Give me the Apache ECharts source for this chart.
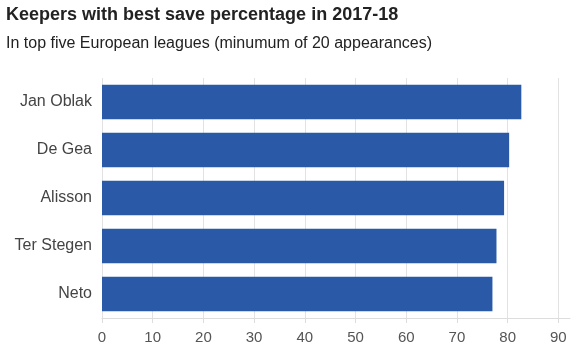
<!DOCTYPE html>
<html>
<head>
<meta charset="utf-8">
<script src="https://cdn.jsdelivr.net/npm/echarts@6/dist/echarts.min.js"></script>
<style>
  html, body { margin: 0; padding: 0; background: #fff; }
  #chart { width: 576px; height: 353px; }
</style>
</head>
<body>
<div id="chart"></div>
<script>
// keepers, top to bottom as drawn
var keepers = ['Jan Oblak', 'De Gea', 'Alisson', 'Ter Stegen', 'Neto'];
var savePct = [82.7, 80.3, 79.3, 77.8, 77.0];
var xTicks = [0, 10, 20, 30, 40, 50, 60, 70, 80, 90];

var chart = echarts.init(document.getElementById('chart'));
chart.setOption({
    animation: false,
    textStyle: { fontFamily: 'Liberation Sans, Arial, sans-serif' },
    title: {
        text: 'Keepers with best save percentage in 2017-18',
        subtext: 'In top five European leagues (minumum of 20 appearances)',
        left: 1,
        top: 1,
        itemGap: 12,
        textStyle: { fontSize: 18, fontWeight: 'bold', color: '#222' },
        subtextStyle: { fontSize: 16, color: '#222' }
    },
    grid: { left: 102, right: 6, top: 78, bottom: 35, containLabel: false },
    xAxis: {
        type: 'value',
        min: 0,
        max: 92.3,
        axisLine: { show: true, lineStyle: { color: '#ddd' } },
        axisTick: { show: true, length: 5, customValues: xTicks, lineStyle: { color: '#ddd' } },
        axisLabel: { customValues: xTicks, color: '#555', fontSize: 15, margin: 12 },
        splitLine: { show: true, lineStyle: { color: '#e2e2e2' } }
    },
    yAxis: {
        type: 'category',
        data: keepers,
        inverse: true,
        axisLine: { show: false },
        axisTick: { show: false },
        axisLabel: { color: '#444', fontSize: 16, margin: 10 }
    },
    series: [{
        type: 'bar',
        data: savePct,
        barCategoryGap: '28%',
        itemStyle: { color: '#2a5aa7' }
    }]
});
</script>
</body>
</html>
